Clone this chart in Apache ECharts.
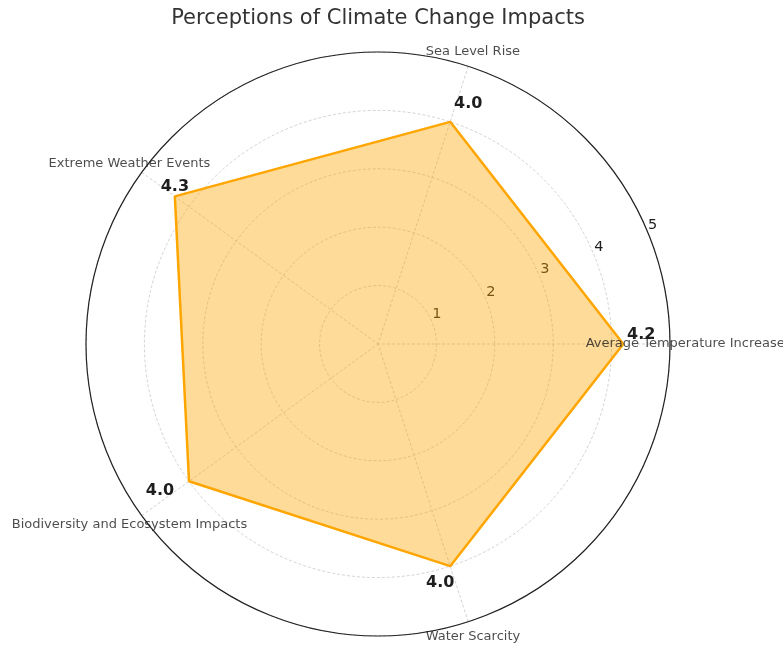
<!DOCTYPE html>
<html>
<head>
<meta charset="utf-8">
<script src="https://cdn.jsdelivr.net/npm/echarts@6/dist/echarts.min.js"></script>
<style>
  html, body { margin: 0; padding: 0; background: #fff; }
  #chart { width: 783px; height: 648px; }
</style>
</head>
<body>
<div id="chart"></div>
<script>
// Survey scores per climate impact (scale 0–5)
const categories = [
  'Average Temperature Increase',
  'Sea Level Rise',
  'Extreme Weather Events',
  'Biodiversity and Ecosystem Impacts',
  'Water Scarcity'
];
const scores = [4.2, 4.0, 4.3, 4.0, 4.0];
const radialTicks = [1, 2, 3, 4, 5];

// Layout helpers
const CENTER = [378, 344];
const RADIUS = 292;
const R_MAX = 5;
const CATEGORY_LABEL_R = 5.26;
const valueLabelOffsets = [[18, -9], [18, -18], [0, -10], [-29, 10], [-10, 17]];

const step = 360 / categories.length;
const angles = categories.map((_, i) => i * step);

// Closed polygon: repeat the first vertex at 360°
const polygon = scores.map((v, i) => ({
  value: [v, angles[i]],
  label: { show: true, offset: valueLabelOffsets[i] }
}));
polygon.push({ value: [scores[0], 360], label: { show: false } });

const labelPoints = categories.map((name, i) => ({ name: name, value: [CATEGORY_LABEL_R, angles[i]] }));

const FONT = '"DejaVu Sans", sans-serif';
const TEXT = '#1e1e1e';
const GRID = { color: '#c8c8c8', type: [3, 2], width: 0.8 };

const option = {
  animation: false,
  backgroundColor: '#fff',
  title: {
    text: 'Perceptions of Climate Change Impacts',
    left: CENTER[0],
    textAlign: 'center',
    top: 8,
    padding: 0,
    textStyle: { fontFamily: FONT, fontSize: 21, fontWeight: 'normal', color: '#333' }
  },
  polar: [
    { center: CENTER, radius: RADIUS },
    { center: CENTER, radius: RADIUS }
  ],
  angleAxis: [
    {
      polarIndex: 0,
      type: 'value',
      min: 0,
      max: 360,
      interval: step,
      startAngle: 0,
      clockwise: false,
      axisLine: { show: true, lineStyle: { color: '#222', width: 1.2 } },
      axisTick: { show: false },
      axisLabel: { show: false },
      splitLine: { show: true, lineStyle: GRID }
    },
    {
      polarIndex: 1,
      type: 'value',
      min: 0,
      max: 360,
      startAngle: 22.5,
      clockwise: false,
      axisLine: { show: false },
      axisTick: { show: false },
      axisLabel: { show: false },
      splitLine: { show: false }
    }
  ],
  radiusAxis: [
    {
      polarIndex: 0,
      type: 'value',
      min: 0,
      max: R_MAX,
      interval: 1,
      axisLine: { show: false },
      axisTick: { show: false },
      axisLabel: { show: false },
      splitLine: { show: true, lineStyle: GRID }
    },
    {
      polarIndex: 1,
      type: 'value',
      min: 0,
      max: R_MAX,
      interval: 1,
      axisLine: { show: false },
      axisTick: { show: false },
      splitLine: { show: false },
      axisLabel: {
        show: true,
        showMinLabel: false,
        margin: 8,
        align: 'center',
        verticalAlign: 'middle',
        padding: [0, 0, 0, 16],
        fontFamily: FONT,
        fontSize: 14.5,
        color: TEXT,
        formatter: function (v) { return radialTicks.indexOf(v) >= 0 ? String(v) : ''; }
      }
    }
  ],
  series: [
    {
      type: 'line',
      coordinateSystem: 'polar',
      polarIndex: 0,
      data: polygon,
      symbol: 'circle',
      symbolSize: 1,
      itemStyle: { color: 'rgba(255,165,0,0)', borderWidth: 0 },
      lineStyle: { color: '#FFA500', width: 2.5 },
      areaStyle: { color: '#FFA500', opacity: 0.4 },
      label: {
        show: true,
        position: 'inside',
        fontFamily: FONT,
        fontSize: 16,
        fontWeight: 'bold',
        color: TEXT,
        formatter: function (p) { return p.value[0].toFixed(1); }
      },
      z: 3
    },
    {
      type: 'scatter',
      coordinateSystem: 'polar',
      polarIndex: 0,
      clip: false,
      data: labelPoints,
      symbolSize: 1,
      itemStyle: { color: 'rgba(0,0,0,0)' },
      label: {
        show: true,
        position: 'inside',
        fontFamily: FONT,
        fontSize: 13,
        color: TEXT,
        formatter: function (p) { return p.name; }
      },
      z: 4
    }
  ]
};

const chart = echarts.init(document.getElementById('chart'), null, { renderer: 'canvas' });
chart.setOption(option);
</script>
</body>
</html>
